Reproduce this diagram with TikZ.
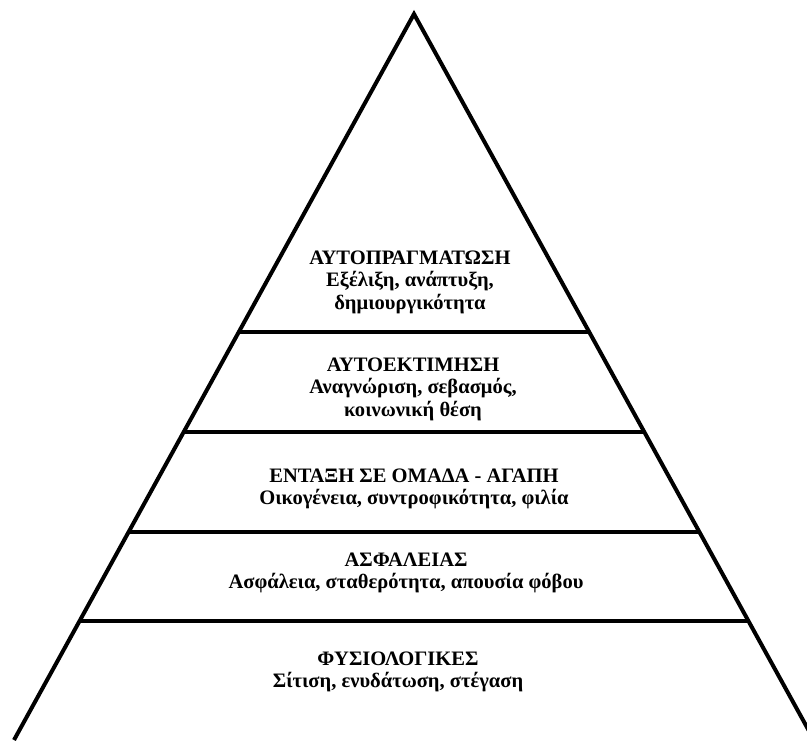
\documentclass[tikz,border=0pt]{standalone}
\usepackage{fontspec}
\setmainfont{Liberation Serif}
\begin{document}
\begin{tikzpicture}[x=0.75pt,y=-0.75pt,
    stufe/.style={align=center,inner sep=0pt,font=\bfseries\fontsize{15.4}{16.8}\selectfont}]
          %Rahmen
          \useasboundingbox (0,0) rectangle (807,740);
          \clip (0,0) rectangle (807,740);
          
          %Dreieck
          \coordinate (spitze) at (414,14);
          \coordinate (links) at (14,740);
          \coordinate (rechts) at (814,740);
          
          \begin{scope}
            \clip (spitze) -- (links) -- (rechts) -- cycle;
            \foreach \y in {332,432,532,621}
            \draw[line width=3pt] (0,\y) -- (807,\y);  %Trennlinien
          \end{scope}
          \draw[line width=3pt, line join=miter] (links) -- (spitze) -- (rechts);
          
          %Stufen
          \node[stufe] (selbstverw) at (410,282) {ΑΥΤΟΠΡΑΓΜΑΤΩΣΗ\\Εξέλιξη, ανάπτυξη,\\δημιουργικότητα};
          \node[stufe] (wertschaetz) at (413,389) {ΑΥΤΟΕΚΤΙΜΗΣΗ\\Αναγνώριση, σεβασμός,\\κοινωνική θέση};
          \node[stufe] (zugehoer) at (414,489) {ΕΝΤΑΞΗ ΣΕ ΟΜΑΔΑ - ΑΓΑΠΗ\\Οικογένεια, συντροφικότητα, φιλία};
          \node[stufe] (sicherheit) at (406,573) {ΑΣΦΑΛΕΙΑΣ\\Ασφάλεια, σταθερότητα, απουσία φόβου};
          \node[stufe] (physio) at (398,672) {ΦΥΣΙΟΛΟΓΙΚΕΣ\\Σίτιση, ενυδάτωση, στέγαση};
          
        \end{tikzpicture}
\end{document}
